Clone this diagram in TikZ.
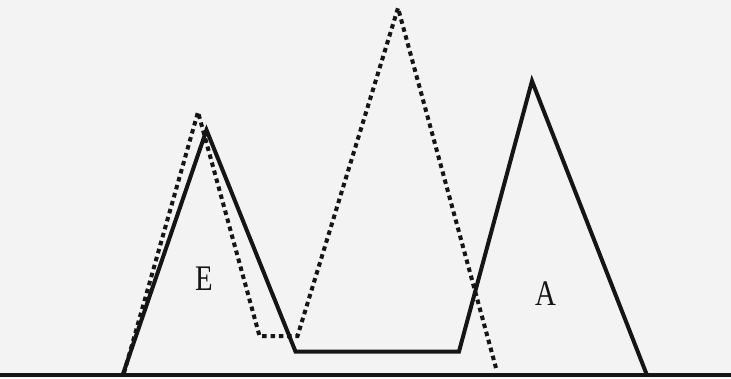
\documentclass[tikz,border=0pt]{standalone}
\usepackage{fontspec}
\setmainfont{Liberation Serif}
\definecolor{paper}{HTML}{F3F3F3}
\definecolor{ink}{HTML}{151515}
\tikzset{
  solidcurve/.style={draw=ink, line width=4pt, line join=miter, line cap=butt},
  dottedcurve/.style={draw=ink, line width=4pt, dash pattern=on 4.5pt off 3.8pt, line join=miter},
  baseline/.style={draw=ink, line width=4pt},
  lbl/.style={font=\fontsize{36}{40}\selectfont, text=ink, inner sep=0pt, xscale=0.8}
}
\begin{document}
\begin{tikzpicture}[x=1pt,y=-1pt]
  \fill[paper] (0,0) rectangle (731,378);
  \useasboundingbox (0,0) rectangle (731,378);
  % solid profile
  \coordinate (s0) at (123,374);
  \coordinate (s1) at (206.5,130);
  \coordinate (s2) at (295.5,351.5);
  \coordinate (s3) at (459,351.5);
  \coordinate (s4) at (532,81);
  \coordinate (s5) at (646.5,374);
  % dotted profile
  \coordinate (d0) at (124,373);
  \coordinate (d1) at (198,112);
  \coordinate (d2) at (259.5,336);
  \coordinate (d3) at (297.5,336);
  \coordinate (d4) at (398,8);
  \coordinate (d5) at (496,368);
  % baseline
  \coordinate (bl) at (0,375);
  \coordinate (br) at (731,375);
  \draw[baseline] (bl) -- (br);
  \draw[solidcurve] (s0) -- (s1) -- (s2) -- (s3) -- (s4) -- (s5);
  \draw[dottedcurve] (d0) -- (d1) -- (d2) -- (d3) -- (d4) -- (d5);
  \node[lbl, anchor=base] (E) at (204,290.7) {E};
  \node[lbl, anchor=base] (A) at (545.5,305.7) {A};
\end{tikzpicture}
\end{document}
